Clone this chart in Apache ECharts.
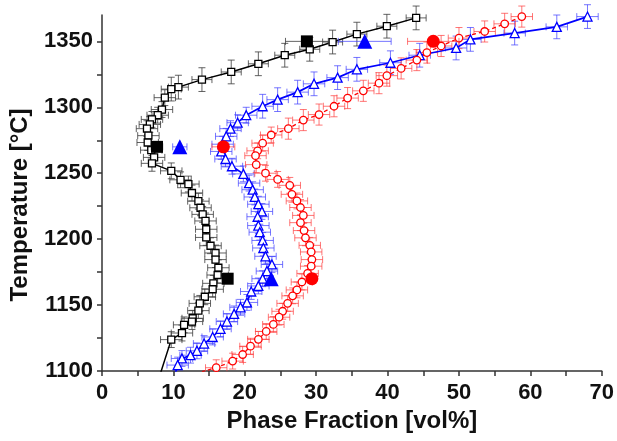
<!DOCTYPE html>
<html><head><meta charset="utf-8">
<script src="https://cdn.jsdelivr.net/npm/echarts@6/dist/echarts.min.js"></script>
<style>html,body{margin:0;padding:0;background:#fff}#c{width:617px;height:441px}</style>
</head><body><div id="c"></div>
<script>
// ---- data ----
const blackX = [44.0,39.9,35.7,32.3,29.1,25.6,21.9,18.1,14.0,10.7,9.7,8.8,8.4,7.8,7.0,6.7,6.3,6.5,6.4,6.9,7.3,7.0,9.7,11.0,12.1,12.6,13.5,13.8,14.1,14.5,14.6,14.6,15.2,15.9,15.9,16.3,16.2,15.6,15.5,14.4,13.7,13.5,12.7,12.6,11.5,11.2,9.7,8.0];
const blackT = [1367.8,1361.5,1355.5,1349.5,1344,1339.5,1333,1326.8,1321,1315.3,1313.8,1307.3,1298.3,1294,1290.8,1287,1283.8,1278.5,1273.3,1267.5,1262,1257.5,1251.8,1245,1241.8,1235,1228.8,1223.8,1218.8,1213.8,1207.5,1201.3,1195,1189.5,1184.5,1178.3,1172.8,1166.5,1162,1156.3,1151.3,1145.8,1140,1137.5,1135,1128.8,1123.8,1095];
const blackXErr = [1.4,1.4,1.4,1.4,1.4,1.4,1.4,1.4,1.4,1.4,1.4,1.5,1.5,1.5,1.5,1.5,1.5,1.5,1.5,1.5,1.5,1.5,1.5,1.5,1.5,1.5,1.5,1.5,1.5,1.5,1.5,1.5,1.5,1.5,1.5,1.5,1.5,1.5,1.5,1.5,1.5,1.5,1.5,1.5,1.5,1.5,1.5,1.5];
const blackTErr = [9,9,9,9,9,9,9,9,9,9,9,6,6,6,6,6,6,6,6,6,6,6,6,6,6,6,6,6,6,6,6,6,6,6,6,6,6,6,6,6,6,6,6,6,6,6,6,6];

const blueX = [68.0,63.7,57.8,51.6,49.6,44.5,40.4,35.7,33.0,29.7,27.4,24.6,22.5,20.2,19.0,18.0,17.4,16.9,16.7,17.3,18.2,19.8,20.6,21.1,21.4,21.9,22.4,21.8,21.9,22.1,22.5,22.6,22.9,23.8,23.1,22.5,21.9,20.9,20.3,19.4,18.5,17.5,16.6,15.5,14.3,13.3,12.4,11.2,10.6,10.1];
const blueT = [1368.8,1361,1356.3,1351.5,1345,1339.5,1333.8,1328.8,1322.5,1317.8,1311.5,1305.8,1300.8,1294,1288.3,1283.8,1278,1272,1266.5,1260.8,1255.3,1249.5,1242.5,1237.5,1232,1226.5,1221,1217,1210.3,1205.3,1199,1193.3,1187,1180.8,1175.8,1170,1164.5,1160.3,1152,1148.3,1143.3,1137.5,1132,1125.8,1120.8,1115.3,1112,1109.5,1104.5,1095];
const blueXErr = [1.5,1.5,1.5,1.5,1.5,1.5,1.5,1.5,1.5,1.5,1.5,1.5,1.5,1.5,1.5,1.5,1.5,1.5,1.5,1.5,1.5,1.5,1.5,1.5,1.5,1.5,1.5,1.5,1.5,1.5,1.5,1.5,1.5,1.5,1.5,1.5,1.5,1.5,1.5,1.5,1.5,1.5,1.5,1.5,1.5,1.5,1.5,1.5,1.5,1.5];
const blueTErr = [9,9,9,9,9,9,9,9,9,9,9,9,9,6,6,6,6,6,6,6,6,6,6,6,6,6,6,6,6,6,6,6,6,6,6,6,6,6,6,6,6,6,6,6,6,6,6,6,6,6];

const redX = [58.8,56.4,53.6,50.0,47.5,45.5,44.1,41.9,39.9,38.8,36.6,34.4,32.5,30.4,28.2,26.1,23.7,22.5,21.8,21.5,21.6,22.9,24.6,26.3,26.6,27.3,27.8,28.2,27.8,28.3,28.5,29.1,29.3,29.4,29.3,28.8,28.0,27.3,26.7,26.0,25.3,24.8,24.0,23.0,21.9,20.8,19.7,18.3,16.0,14.0];
const redT = [1368.8,1363.3,1357.5,1352.5,1346.5,1341.5,1335.8,1329.5,1324,1318.3,1312.5,1307,1300.8,1294.5,1290.3,1283.8,1279,1272.8,1267,1263.3,1256.5,1250,1245.3,1240.8,1234,1229,1224,1218,1212.5,1206.5,1201,1195.3,1190.3,1184.5,1179.5,1174,1167.5,1161.5,1157,1151.3,1145.3,1140.8,1135.3,1130,1124,1118.8,1112.5,1107.5,1102.5,1099.5];
const redXErr = [1.5,1.5,1.5,1.5,1.5,1.5,1.5,1.5,1.5,1.5,1.5,1.5,1.5,1.5,1.5,1.5,1.5,1.5,1.5,1.5,1.5,1.5,1.5,1.5,1.5,1.5,1.5,1.5,1.5,1.5,1.5,1.5,1.5,1.5,1.5,1.5,1.5,1.5,1.5,1.5,1.5,1.5,1.5,1.5,1.5,1.5,1.5,1.5,1.5,1.5];
const redTErr = [8,8,8,8,8,8,8,8,8,8,8,8,8,8,8,8,6,6,6,6,6,6,6,6,6,6,6,6,6,6,6,6,6,6,6,6,6,6,6,6,6,6,6,6,6,6,6,6,6,6];

// calculated (large filled) points
const calcT = [1350, 1270, 1170];
const calcBlackX = [28.7, 7.7, 17.6];
const calcBlueX = [36.8, 10.9, 23.7];
const calcRedX = [46.4, 17.0, 29.4];
const calcBlackXErr = [3.0, 0.8, 0];
const calcBlueXErr = [3.7, 1.0, 0];
const calcRedXErr = [3.6, 1.6, 0];

// axes: labels every 10 / 50, ticks every 5 / 25
const X_MIN = 0, X_MAX = 70, X_TICK = 5, X_LABEL_STEP = 10;
const Y_MIN = 1100, Y_MAX = 1370, Y_TICK = 25, Y_LABEL_STEP = 50;

// ---- helpers ----
function zip(xs, ts, xe, te) {
  return xs.map((x, i) => [x, ts[i], xe ? xe[i] : 0, te ? te[i] : 0]);
}
function errRender(color) {
  return function (params, api) {
    const x = api.value(0), t = api.value(1), xe = api.value(2), te = api.value(3);
    const cap = 3.5;
    const style = { stroke: color, lineWidth: 1, fill: null };
    const ch = [];
    const L = (a, b) => ch.push({ type: 'line', shape: { x1: a[0], y1: a[1], x2: b[0], y2: b[1] }, style: style });
    if (t < Y_MIN) return { type: 'group', children: [] };
    if (xe > 0) {
      const l = api.coord([x - xe, t]), r = api.coord([x + xe, t]);
      L(l, r);
      L([l[0], l[1] - cap], [l[0], l[1] + cap]);
      L([r[0], r[1] - cap], [r[0], r[1] + cap]);
    }
    if (te > 0) {
      const lowV = Math.max(t - te, Y_MIN);
      const b = api.coord([x, lowV]), u = api.coord([x, t + te]);
      L(b, u);
      L([u[0] - cap, u[1]], [u[0] + cap, u[1]]);
      if (t - te >= Y_MIN) L([b[0] - cap, b[1]], [b[0] + cap, b[1]]);
    }
    return { type: 'group', children: ch };
  };
}
function errSeries(data, color, z) {
  return { type: 'custom', renderItem: errRender(color), data: data, clip: false, z: z,
    encode: { x: 0, y: 1 }, silent: true };
}

const FONT = 'Liberation Sans, Arial, sans-serif';
const axisCol = '#333';

const chart = echarts.init(document.getElementById('c'), null, { renderer: 'canvas' });
chart.setOption({
  animation: false,
  backgroundColor: '#fff',
  grid: { left: 101, right: 12, top: 15, bottom: 70 },
  xAxis: {
    type: 'value', min: X_MIN, max: X_MAX, interval: X_TICK,
    name: 'Phase Fraction [vol%]', nameLocation: 'middle', nameGap: 38,
    nameTextStyle: { fontSize: 24, fontWeight: 'bold', color: '#111', fontFamily: FONT },
    axisLine: { onZero: false, lineStyle: { color: axisCol, width: 1.5 } },
    axisTick: { show: true, length: 5, lineStyle: { color: axisCol, width: 1.5 } },
    axisLabel: { formatter: v => (v % X_LABEL_STEP === 0 ? String(v) : ''), fontSize: 22, fontWeight: 'bold', color: '#111', fontFamily: FONT, margin: 11 },
    splitLine: { show: false }
  },
  yAxis: {
    type: 'value', min: Y_MIN, max: Y_MAX, interval: Y_TICK,
    name: 'Temperature [°C]', nameLocation: 'middle', nameGap: 70,
    nameTextStyle: { fontSize: 24, fontWeight: 'bold', color: '#111', fontFamily: FONT, padding: [0, 24, 0, 0] },
    axisLine: { show: true, lineStyle: { color: axisCol, width: 1.5 } },
    axisTick: { show: true, length: 5, lineStyle: { color: axisCol, width: 1.5 } },
    axisLabel: { formatter: v => (v % Y_LABEL_STEP === 0 ? String(v) : ''), fontSize: 22, fontWeight: 'bold', color: '#111', fontFamily: FONT, margin: 9, showMaxLabel: false },
    splitLine: { show: false }
  },
  series: [
    errSeries(zip(blackX, blackT, blackXErr, blackTErr), 'rgba(60,60,60,0.8)', 2),
    errSeries(zip(blueX, blueT, blueXErr, blueTErr), 'rgba(60,60,255,0.7)', 2),
    errSeries(zip(redX, redT, redXErr, redTErr), 'rgba(255,60,60,0.7)', 2),
    {
      type: 'line', data: zip(blackX, blackT).map(d => [d[0], d[1]]), z: 3,
      symbol: 'rect', symbolSize: 7, showAllSymbol: true,
      lineStyle: { color: '#000', width: 1.5 },
      itemStyle: { color: '#fff', borderColor: '#000', borderWidth: 1.3, opacity: 1 }
    },
    {
      type: 'line', data: zip(blueX, blueT).map(d => [d[0], d[1]]), z: 3,
      symbol: 'triangle', symbolSize: 9, showAllSymbol: true,
      lineStyle: { color: '#0000ff', width: 1.7 },
      itemStyle: { color: '#fff', borderColor: '#0000ff', borderWidth: 1.3, opacity: 1 }
    },
    {
      type: 'line', data: zip(redX, redT).map(d => [d[0], d[1]]), z: 3,
      symbol: 'circle', symbolSize: 7.5, showAllSymbol: true,
      lineStyle: { color: '#ff0000', width: 1.3, type: [4, 3] },
      itemStyle: { color: '#fff', borderColor: '#ff0000', borderWidth: 1.3, opacity: 1 }
    },
    errSeries(zip(calcBlackX, calcT, calcBlackXErr, null), 'rgba(60,60,60,0.8)', 4),
    errSeries(zip(calcBlueX, calcT, calcBlueXErr, null), 'rgba(60,60,255,0.7)', 4),
    errSeries(zip(calcRedX, calcT, calcRedXErr, null), 'rgba(255,60,60,0.7)', 4),
    { type: 'scatter', data: zip(calcBlackX, calcT).map(d => [d[0], d[1]]), symbol: 'rect', symbolSize: 12, z: 5,
      itemStyle: { color: '#000', opacity: 1 } },
    { type: 'scatter', data: zip(calcBlueX, calcT).map(d => [d[0], d[1]]), symbol: 'triangle', symbolSize: 15, z: 5,
      itemStyle: { color: '#0000ff', opacity: 1 } },
    { type: 'scatter', data: zip(calcRedX, calcT).map(d => [d[0], d[1]]), symbol: 'circle', symbolSize: 13, z: 5,
      itemStyle: { color: '#ff0000', opacity: 1 } }
  ]
});
</script>
</body></html>
